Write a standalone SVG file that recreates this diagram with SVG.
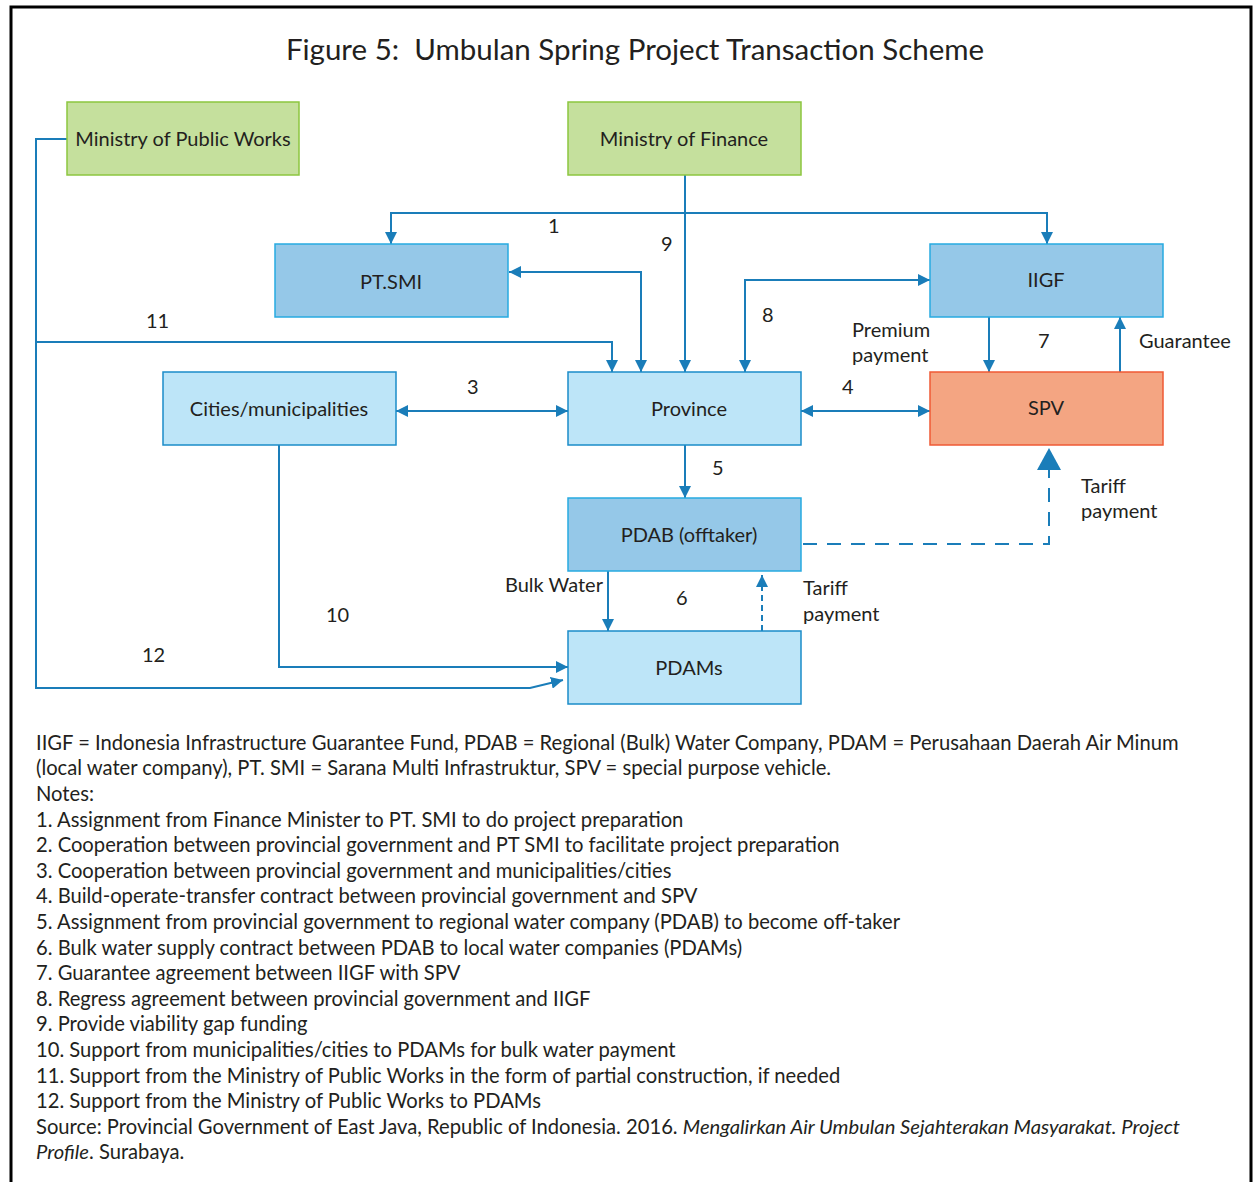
<svg xmlns="http://www.w3.org/2000/svg" width="1254" height="1182" viewBox="0 0 1254 1182">
<style>
text{font-family:Lato,"Open Sans","Liberation Sans",sans-serif;fill:#231f20}
.title{font-size:29.5px;text-anchor:middle}
.nl{font-size:20px;text-anchor:middle}
.lb{font-size:20px}
.nt{font-size:20.2px}
.green{fill:#c5e09d;stroke:#8cc63f;stroke-width:1.5}
.mid{fill:#95c8e8;stroke:#27aae1;stroke-width:1.5}
.light{fill:#bde5f8;stroke:#1b8cc9;stroke-width:1.5}
.spv{fill:#f4a582;stroke:#ef5a35;stroke-width:1.5}
.c{fill:none;stroke:#1a7db9;stroke-width:2}
</style>
<defs>
<marker id="ah" viewBox="0 0 12 12" refX="12" refY="6" markerWidth="12" markerHeight="12" markerUnits="userSpaceOnUse" orient="auto-start-reverse">
<path d="M0,0 L12,6 L0,12 z" fill="#1a7db9"/>
</marker>
</defs>
<rect width="1254" height="1182" fill="#fff"/>
<path d="M11 1182 V7 H1251 V1182" fill="none" stroke="#000" stroke-width="3"/>
<text class="title" x="635" y="60" xml:space="preserve">Figure 5:  Umbulan Spring Project Transaction Scheme</text>

<g id="connectors">
<path class="c" d="M685 175 V372" marker-end="url(#ah)"/>
<path class="c" d="M391 244 V213 H1047 V244" marker-start="url(#ah)" marker-end="url(#ah)"/>
<path class="c" d="M509 272 H641 V372" marker-start="url(#ah)" marker-end="url(#ah)"/>
<path class="c" d="M745 372 V280 H930" marker-start="url(#ah)" marker-end="url(#ah)"/>
<path class="c" d="M67 139 H36 V688 H530 L563 680" marker-end="url(#ah)"/>
<path class="c" d="M36 342 H612 V372" marker-end="url(#ah)"/>
<path class="c" d="M279 445 V667 H568" marker-end="url(#ah)"/>
<path class="c" d="M396 411 H568" marker-start="url(#ah)" marker-end="url(#ah)"/>
<path class="c" d="M801 411 H930" marker-start="url(#ah)" marker-end="url(#ah)"/>
<path class="c" d="M685 445 V498" marker-end="url(#ah)"/>
<path class="c" d="M608 571 V631" marker-end="url(#ah)"/>
<path class="c" d="M762 631 V575" stroke-dasharray="6 4" marker-end="url(#ah)"/>
<path class="c" d="M989 317 V372" marker-end="url(#ah)"/>
<path class="c" d="M1120 372 V317" marker-end="url(#ah)"/>
<path class="c" d="M803 544 H1049 V470" stroke-width="3" stroke-dasharray="14 10"/>
<path d="M1037 470 L1049 448 L1061 470 z" fill="#1a7db9"/>
</g>

<g id="n-mpw"><rect class="green" x="67" y="102" width="232" height="73"/><text class="nl" x="183" y="146">Ministry of Public Works</text></g>
<g id="n-mof"><rect class="green" x="568" y="102" width="233" height="73"/><text class="nl" x="684" y="146">Ministry of Finance</text></g>
<g id="n-ptsmi"><rect class="mid" x="275" y="244" width="233" height="73"/><text class="nl" x="391" y="289">PT.SMI</text></g>
<g id="n-iigf"><rect class="mid" x="930" y="244" width="233" height="73"/><text class="nl" x="1046" y="287">IIGF</text></g>
<g id="n-cities"><rect class="light" x="163" y="372" width="233" height="73"/><text class="nl" x="279" y="416">Cities/municipalities</text></g>
<g id="n-province"><rect class="light" x="568" y="372" width="233" height="73"/><text class="nl" x="689" y="416">Province</text></g>
<g id="n-spv"><rect class="spv" x="930" y="372" width="233" height="73"/><text class="nl" x="1046" y="415">SPV</text></g>
<g id="n-pdab"><rect class="mid" x="568" y="498" width="233" height="73"/><text class="nl" x="689" y="542">PDAB (offtaker)</text></g>
<g id="n-pdams"><rect class="light" x="568" y="631" width="233" height="73"/><text class="nl" x="689" y="675">PDAMs</text></g>

<g id="labels">
<text class="lb" x="548" y="233">1</text>
<text class="lb" x="661" y="251">9</text>
<text class="lb" x="146" y="328">11</text>
<text class="lb" x="762" y="322">8</text>
<text class="lb" x="852" y="337">Premium</text>
<text class="lb" x="852" y="362">payment</text>
<text class="lb" x="1038" y="348">7</text>
<text class="lb" x="1139" y="348">Guarantee</text>
<text class="lb" x="467" y="394">3</text>
<text class="lb" x="842" y="394">4</text>
<text class="lb" x="712" y="475">5</text>
<text class="lb" x="1081" y="493">Tariff</text>
<text class="lb" x="1081" y="518">payment</text>
<text class="lb" x="505" y="592">Bulk Water</text>
<text class="lb" x="676" y="605">6</text>
<text class="lb" x="803" y="595">Tariff</text>
<text class="lb" x="803" y="621">payment</text>
<text class="lb" x="326" y="622">10</text>
<text class="lb" x="142" y="662">12</text>
</g>

<g id="notes">
<text class="nt" x="36" y="750">IIGF = Indonesia Infrastructure Guarantee Fund, PDAB = Regional (Bulk) Water Company, PDAM = Perusahaan Daerah Air Minum</text>
<text class="nt" x="36" y="775">(local water company), PT. SMI = Sarana Multi Infrastruktur, SPV = special purpose vehicle.</text>
<text class="nt" x="36" y="801">Notes:</text>
<text class="nt" x="36" y="827">1. Assignment from Finance Minister to PT. SMI to do project preparation</text>
<text class="nt" x="36" y="852">2. Cooperation between provincial government and PT SMI to facilitate project preparation</text>
<text class="nt" x="36" y="878">3. Cooperation between provincial government and municipalities/cities</text>
<text class="nt" x="36" y="903">4. Build-operate-transfer contract between provincial government and SPV</text>
<text class="nt" x="36" y="929">5. Assignment from provincial government to regional water company (PDAB) to become off-taker</text>
<text class="nt" x="36" y="955">6. Bulk water supply contract between PDAB to local water companies (PDAMs)</text>
<text class="nt" x="36" y="980">7. Guarantee agreement between IIGF with SPV</text>
<text class="nt" x="36" y="1006">8. Regress agreement between provincial government and IIGF</text>
<text class="nt" x="36" y="1031">9. Provide viability gap funding</text>
<text class="nt" x="36" y="1057">10. Support from municipalities/cities to PDAMs for bulk water payment</text>
<text class="nt" x="36" y="1083">11. Support from the Ministry of Public Works in the form of partial construction, if needed</text>
<text class="nt" x="36" y="1108">12. Support from the Ministry of Public Works to PDAMs</text>
<text class="nt" x="36" y="1134">Source: Provincial Government of East Java, Republic of Indonesia. 2016. <tspan font-style="italic">Mengalirkan Air Umbulan Sejahterakan Masyarakat. Project</tspan></text>
<text class="nt" x="36" y="1159"><tspan font-style="italic">Profile</tspan>. Surabaya.</text>
</g>
</svg>
